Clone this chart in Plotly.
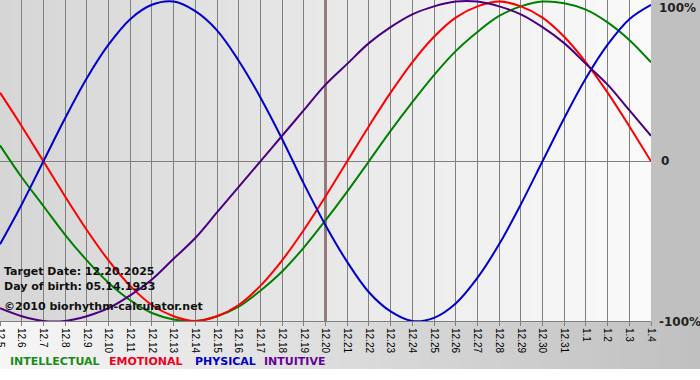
import plotly.graph_objects as go

# ---- data ----
dates = ["12.5", "12.6", "12.7", "12.8", "12.9", "12.10", "12.11", "12.12", "12.13", "12.14",
         "12.15", "12.16", "12.17", "12.18", "12.19", "12.20", "12.21", "12.22", "12.23", "12.24",
         "12.25", "12.26", "12.27", "12.28", "12.29", "12.30", "12.31", "1.1", "1.2", "1.3", "1.4"]
target_date = "12.20"

intellectual = [0.10, -0.10, -0.28, -0.46, -0.62, -0.76, -0.87, -0.95, -0.99, -1.00,
                -0.97, -0.91, -0.81, -0.69, -0.54, -0.37, -0.19, 0.00, 0.19, 0.37,
                0.54, 0.69, 0.81, 0.91, 0.97, 1.00, 0.99, 0.95, 0.87, 0.76, 0.62]
emotional = [0.43, 0.22, 0.00, -0.22, -0.43, -0.62, -0.78, -0.90, -0.97, -1.00,
             -0.97, -0.90, -0.78, -0.62, -0.43, -0.22, 0.00, 0.22, 0.43, 0.62,
             0.78, 0.90, 0.97, 1.00, 0.97, 0.90, 0.78, 0.62, 0.43, 0.22, 0.00]
physical = [-0.52, -0.27, 0.00, 0.27, 0.52, 0.73, 0.89, 0.98, 1.00, 0.94,
            0.82, 0.63, 0.40, 0.14, -0.14, -0.40, -0.63, -0.82, -0.94, -1.00,
            -0.98, -0.89, -0.73, -0.52, -0.27, 0.00, 0.27, 0.52, 0.73, 0.89, 0.98]
intuitive = [-0.92, -0.97, -1.00, -1.00, -0.97, -0.92, -0.84, -0.74, -0.61, -0.48,
             -0.32, -0.16, 0.00, 0.16, 0.32, 0.48, 0.61, 0.74, 0.84, 0.92,
             0.97, 1.00, 1.00, 0.97, 0.92, 0.84, 0.74, 0.61, 0.48, 0.32, 0.16]

series_names = ["INTELLECTUAL", "EMOTIONAL", "PHYSICAL", "INTUITIVE"]
series_values = [intellectual, emotional, physical, intuitive]
line_colors = ["#008000", "#ff0000", "#0000cc", "#4b0082"]
legend_colors = ["#1a8c1a", "#ee0022", "#0000cc", "#660099"]
y_tick_vals = [1, 0, -1]
y_tick_text = ["100%", "0", "-100%"]
info_lines = ["Target Date: 12.20.2025", "Day of birth: 05.14.1933", "©2010 biorhythm-calculator.net"]

# ---- geometry ----
W, H = 700, 380
PL, PR, PT, PB = 0, 651, 0, 321  # plot area in pixels
pw, ph = PR - PL, PB - PT


def px_x(x):
    return (x - PL) / pw


def px_y(y):
    return (PB - y) / ph


xs = list(range(len(dates)))
fig = go.Figure()

for name, vals, col in zip(series_names, series_values, line_colors):
    fig.add_trace(go.Scatter(x=xs, y=vals, mode="lines", name=name,
                             line=dict(color=col, width=2, shape="spline"),
                             showlegend=False, hoverinfo="skip"))

shapes = []
# plot-area gradient (left darker -> right lighter)
n = 60
for i in range(n):
    t = i / (n - 1)
    c = int(round(0xd6 + (0xfa - 0xd6) * t))
    shapes.append(dict(type="rect", xref="paper", yref="paper",
                       x0=i / n, x1=(i + 1) / n + 0.002, y0=0, y1=1,
                       fillcolor=f"rgb({c},{c},{c})", line=dict(width=0), layer="below"))
# right margin gray
shapes.append(dict(type="rect", xref="paper", yref="paper",
                   x0=1, x1=px_x(W), y0=0, y1=1,
                   fillcolor="#c0c0c0", line=dict(width=0), layer="below"))
# bottom strip gradient (left light -> right gray)
m = 70
x_end = px_x(W)
for i in range(m):
    t = i / (m - 1)
    c = int(round(0xf6 + (0xc0 - 0xf6) * t))
    shapes.append(dict(type="rect", xref="paper", yref="paper",
                       x0=x_end * i / m, x1=x_end * (i + 1) / m + 0.002,
                       y0=px_y(369), y1=0,
                       fillcolor=f"rgb({c},{c},{c})", line=dict(width=0), layer="below"))
# target date marker
shapes.append(dict(type="line", xref="x", yref="paper",
                   x0=dates.index(target_date), x1=dates.index(target_date), y0=0, y1=1,
                   line=dict(color="#5a0a0a", width=2), layer="between"))

annotations = []
for txt, yp in zip(info_lines, [271, 286, 306]):
    annotations.append(dict(text=txt, xref="paper", yref="paper", x=px_x(2), y=px_y(yp),
                            xanchor="left", yanchor="middle", showarrow=False,
                            font=dict(family="DejaVu Sans", size=11, color="#111111", weight="bold")))
for val, txt in zip(y_tick_vals, y_tick_text):
    yp = {1: 8, 0: 161, -1: 322}[val]
    annotations.append(dict(text=txt, xref="paper", yref="paper", x=px_x(657 if val != 0 else 659),
                            y=px_y(yp), xanchor="left", yanchor="middle", showarrow=False,
                            font=dict(family="DejaVu Sans", size=12, color="#222222", weight="bold")))
for name, col, xp in zip(series_names, legend_colors, [8, 107, 193, 262]):
    annotations.append(dict(text=name, xref="paper", yref="paper", x=px_x(xp), y=px_y(361),
                            xanchor="left", yanchor="middle", showarrow=False,
                            font=dict(family="DejaVu Sans", size=11, color=col, weight="bold")))

fig.update_layout(
    width=W, height=H,
    margin=dict(l=PL, r=W - PR, t=PT, b=H - PB, pad=0),
    paper_bgcolor="white", plot_bgcolor="rgba(0,0,0,0)",
    shapes=shapes, annotations=annotations,
    xaxis=dict(range=[0, len(dates) - 1], tickvals=xs, ticktext=dates, tickangle=90,
               showgrid=True, gridcolor="#808080", gridwidth=1,
               ticks="outside", ticklen=4, tickcolor="#808080",
               showline=True, linecolor="#808080", linewidth=1,
               ticklabeloverflow="allow",
               tickfont=dict(family="Liberation Sans", size=10, color="#000000"),
               zeroline=False, fixedrange=True, automargin=False),
    yaxis=dict(range=[-1.0, 1.01], showgrid=False, showticklabels=False,
               zeroline=True, zerolinecolor="#808080", zerolinewidth=1,
               fixedrange=True, automargin=False),
)

fig.write_html("out.html", config={"displayModeBar": False},
               post_script="document.body.style.margin='0';document.body.style.overflow='hidden';")
